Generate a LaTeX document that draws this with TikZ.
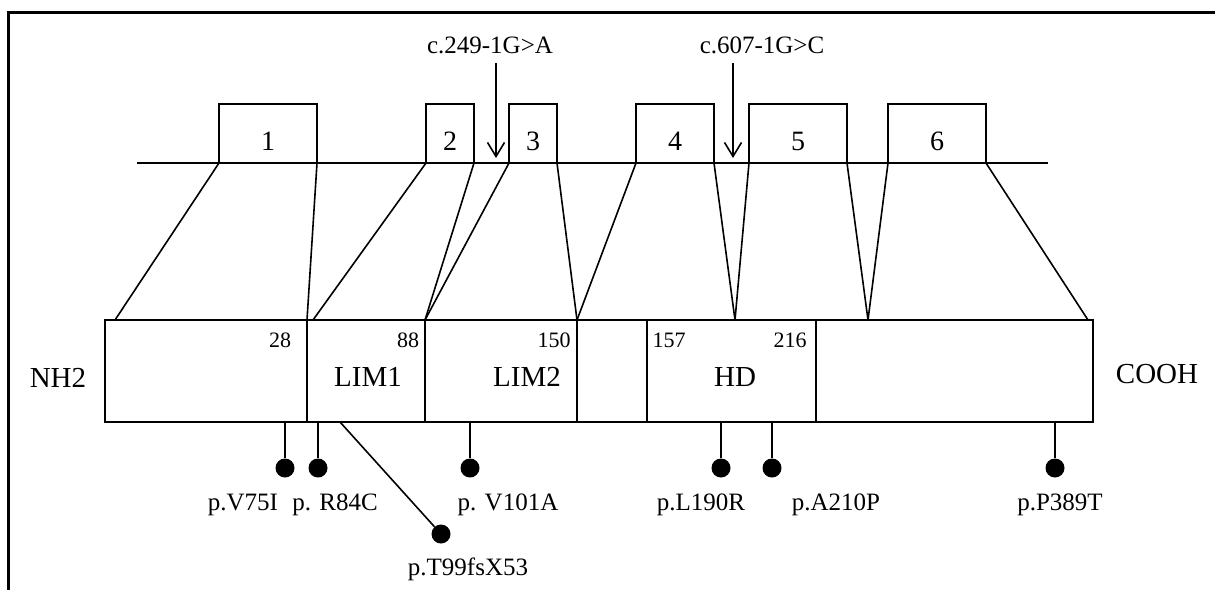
\documentclass[tikz,border=0pt]{standalone}
\usepackage{fontspec}
\setmainfont{Liberation Serif}
\usetikzlibrary{arrows.meta,positioning,calc}

\begin{document}
\begin{tikzpicture}[x=1pt, y=-1pt, >={Straight Barb[length=14pt,width=17pt]},
        thick line/.style={line width=2.8pt},
        thin line/.style={line width=1.6pt},
        exonbox/.style={draw, line width=2.8pt, minimum height=59pt, inner sep=0pt, outer sep=0pt,
            anchor=south west, text height=33pt, text depth=0pt, font=\fontsize{28}{30}\selectfont},
        segbox/.style={draw, line width=2.8pt, minimum height=102pt, inner sep=0pt, outer sep=0pt, anchor=north west},
        dot/.style={circle, fill=black, minimum size=19pt, inner sep=0pt},
        mutlabel/.style={anchor=base, inner sep=0pt, font=\fontsize{25}{27}\selectfont},
        toplabel/.style={anchor=base, inner sep=0pt, font=\fontsize{25}{27}\selectfont},
        numlabel/.style={anchor=base, inner sep=0pt, font=\fontsize{22}{24}\selectfont},
        domlabel/.style={anchor=base, inner sep=0pt, font=\fontsize{29}{31}\selectfont}]
        \useasboundingbox (0,0) rectangle (1215,590);

        % Frame
        \draw[line width=3pt] (1215,12) -- (8,12) -- (8,590);

        % Gene: intron line and exons
        \coordinate (lineL) at (137,163);
        \coordinate (lineR) at (1048,163);
        \draw[thick line] (lineL) -- (lineR);
        \node[exonbox, minimum width=98pt] (ex1) at (219,163) {1};
        \node[exonbox, minimum width=48pt] (ex2) at (426,163) {2};
        \node[exonbox, minimum width=48pt] (ex3) at (509,163) {3};
        \node[exonbox, minimum width=78pt] (ex4) at (636,163) {4};
        \node[exonbox, minimum width=98pt] (ex5) at (749,163) {5};
        \node[exonbox, minimum width=98pt] (ex6) at (888,163) {6};

        % Splice site mutations
        \node[toplabel] (c249) at (490,53) {c.249-1G>A};
        \node[toplabel] (c607) at (762,53) {c.607-1G>C};
        \coordinate (t249) at (496,63);
        \coordinate (h249) at (496,158);
        \coordinate (t607) at (733,63);
        \coordinate (h607) at (733,158);
        \draw[->, thin line] (t249) -- (h249);
        \draw[->, thin line] (t607) -- (h607);

        % Protein
        \node[segbox, minimum width=202pt] (s1) at (105,320) {};
        \node[segbox, minimum width=118pt] (s2) at (307,320) {};
        \node[segbox, minimum width=152pt] (s3) at (425,320) {};
        \node[segbox, minimum width=70pt] (s4) at (577,320) {};
        \node[segbox, minimum width=169pt] (s5) at (647,320) {};
        \node[segbox, minimum width=277pt] (s6) at (816,320) {};

        \node[numlabel] (n28) at (280,347) {28};
        \node[numlabel] (n88) at (408,347) {88};
        \node[numlabel] (n150) at (554,347) {150};
        \node[numlabel] (n157) at (669,347) {157};
        \node[numlabel] (n216) at (790,347) {216};

        \node[domlabel] (nh2) at (58,387) {NH2};
        \node[domlabel] (lim1) at (368,386) {LIM1};
        \node[domlabel] (lim2) at (527,386) {LIM2};
        \node[domlabel] (hd) at (735,386) {HD};
        \node[domlabel] (cooh) at (1157,383) {COOH};

        % Exon to protein mapping
        \coordinate (b1) at (115,320);
        \coordinate (b2) at (313,320);
        \coordinate (b3) at (735,320);
        \coordinate (b4) at (868,320);
        \coordinate (b5) at (1088,320);
        \draw[thin line] (ex1.south west) -- (b1);
        \draw[thin line] (ex1.south east) -- (s1.north east);
        \draw[thin line] (ex2.south west) -- (b2);
        \draw[thin line] (ex2.south east) -- (s2.north east);
        \draw[thin line] (ex3.south west) -- (s2.north east);
        \draw[thin line] (ex3.south east) -- (s3.north east);
        \draw[thin line] (ex4.south west) -- (s3.north east);
        \draw[thin line] (ex4.south east) -- (b3);
        \draw[thin line] (ex5.south west) -- (b3);
        \draw[thin line] (ex5.south east) -- (b4);
        \draw[thin line] (ex6.south west) -- (b4);
        \draw[thin line] (ex6.south east) -- (b5);

        % Missense mutations
        \node[dot] (v75) at (285,468) {};
        \node[dot] (r84) at (318,468) {};
        \node[dot] (v101) at (470,468) {};
        \node[dot] (l190) at (721,468) {};
        \node[dot] (a210) at (772,468) {};
        \node[dot] (p389) at (1055,468) {};
        \node[dot] (t99) at (441,534) {};
        \draw[thick line] (v75) -- (v75 |- s1.south);
        \draw[thick line] (r84) -- (r84 |- s2.south);
        \draw[thick line] (v101) -- (v101 |- s3.south);
        \draw[thick line] (l190) -- (l190 |- s5.south);
        \draw[thick line] (a210) -- (a210 |- s5.south);
        \draw[thick line] (p389) -- (p389 |- s6.south);
        \coordinate (c99) at (340,422);
        \draw[thin line] (c99) -- (t99);

        \node[mutlabel] (lv75) at (243,510) {p.V75I};
        \node[mutlabel] (lr84) at (335,510) {p. R84C};
        \node[mutlabel] (lv101) at (508,510) {p. V101A};
        \node[mutlabel] (ll190) at (701,510) {p.L190R};
        \node[mutlabel] (la210) at (836,510) {p.A210P};
        \node[mutlabel] (lp389) at (1060,510) {p.P389T};
        \node[mutlabel] (lt99) at (468,575) {p.T99fsX53};
    \end{tikzpicture}
\end{document}
